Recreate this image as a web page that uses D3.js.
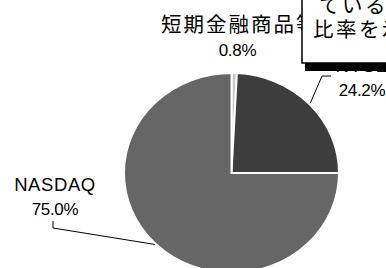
<!DOCTYPE html>
<html>
<head>
<meta charset="utf-8">
<script src="https://cdn.jsdelivr.net/npm/d3@7"></script>
<style>
  body { margin: 0; background: #fff; }
  svg { display: block; }
</style>
</head>
<body>
<div id="vis"></div>
<script>
// data
var categories = ["短期金融商品等", "NYSE", "NASDAQ"];
var shares = [0.8, 24.2, 75.0];
var colors = ["#c6c6c6", "#3d3d3d", "#666666"];
var noteLines = ["ている和", "比率を示す"];

var width = 386, height = 268;
var cx = 231.5, cy = 173, r = 100, sx = 1.075;

var svg = d3.select("#vis").append("svg")
  .attr("width", width)
  .attr("height", height);

var pie = d3.pie().sort(null).value(function(d) { return d; });
var arcs = pie(shares);

var arc = d3.arc().innerRadius(0).outerRadius(r);
var edge = d3.arc().innerRadius(r + 1).outerRadius(r + 1);

var g = svg.append("g")
  .attr("transform", "translate(" + cx + "," + cy + ") scale(" + sx + ",1)");

g.selectAll("path")
  .data(arcs)
  .enter().append("path")
    .attr("d", arc)
    .attr("fill", function(d, i) { return colors[i]; })
    .attr("stroke", "#fff")
    .attr("stroke-width", 2)
    .attr("vector-effect", "non-scaling-stroke");

// point on the rim at the middle of a slice, in page coords
function rim(d) {
  var p = edge.centroid(d);
  return [cx + p[0] * sx, cy + p[1]];
}

// label layout: first line position, leader elbow points
var labelPos = [
  {x: 161, y: 32, anchor: "start", jp: true, elbow: null},
  {x: 362, y: 72, anchor: "middle", jp: false, elbow: [[331, 76], [322, 76]]},
  {x: 55, y: 190.5, anchor: "middle", jp: false, elbow: [[53, 221], [53, 228]]}
];

var line = d3.line();

arcs.forEach(function(d, i) {
  var lp = labelPos[i];
  if (lp.elbow) {
    svg.append("path")
      .attr("d", line(lp.elbow.concat([rim(d)])))
      .attr("fill", "none")
      .attr("stroke", "#000")
      .attr("stroke-width", 1);
  }
  var t = svg.append("text")
    .attr("x", lp.x)
    .attr("y", lp.y)
    .attr("text-anchor", lp.anchor)
    .attr("fill", "#000");
  if (lp.jp) {
    t.attr("font-family", "'Noto Sans CJK JP', sans-serif")
      .attr("font-size", 20.5)
      .attr("letter-spacing", 2)
      .text(categories[i]);
  } else {
    t.attr("font-family", "'Liberation Sans', Arial, sans-serif")
      .attr("font-size", 18.5)
      .attr("letter-spacing", 0.6)
      .text(categories[i]);
  }
  var px = lp.jp ? 237.5 : lp.x;
  var py = lp.jp ? 56.3 : lp.y + 24;
  svg.append("text")
    .attr("x", px)
    .attr("y", py)
    .attr("text-anchor", "middle")
    .attr("font-family", "'Liberation Sans', Arial, sans-serif")
    .attr("font-size", 17)
    .attr("letter-spacing", -0.3)
    .attr("fill", "#000")
    .text(shares[i].toFixed(1) + "%");
});

// callout box on top
svg.append("rect")
  .attr("x", 305).attr("y", -10)
  .attr("width", 110).attr("height", 81)
  .attr("fill", "#000");

svg.append("rect")
  .attr("x", 302).attr("y", -10)
  .attr("width", 110).attr("height", 73)
  .attr("fill", "#fff")
  .attr("stroke", "#000")
  .attr("stroke-width", 1.5);

svg.append("g")
  .selectAll("text")
  .data(noteLines)
  .enter().append("text")
    .attr("x", function(d, i) { return i === 0 ? 319 : 313; })
    .attr("y", function(d, i) { return 13 + i * 24; })
    .attr("font-family", "'Noto Sans CJK JP', sans-serif")
    .attr("font-size", 20.5)
    .attr("letter-spacing", 2.5)
    .attr("fill", "#000")
    .text(function(d) { return d; });
</script>
</body>
</html>
